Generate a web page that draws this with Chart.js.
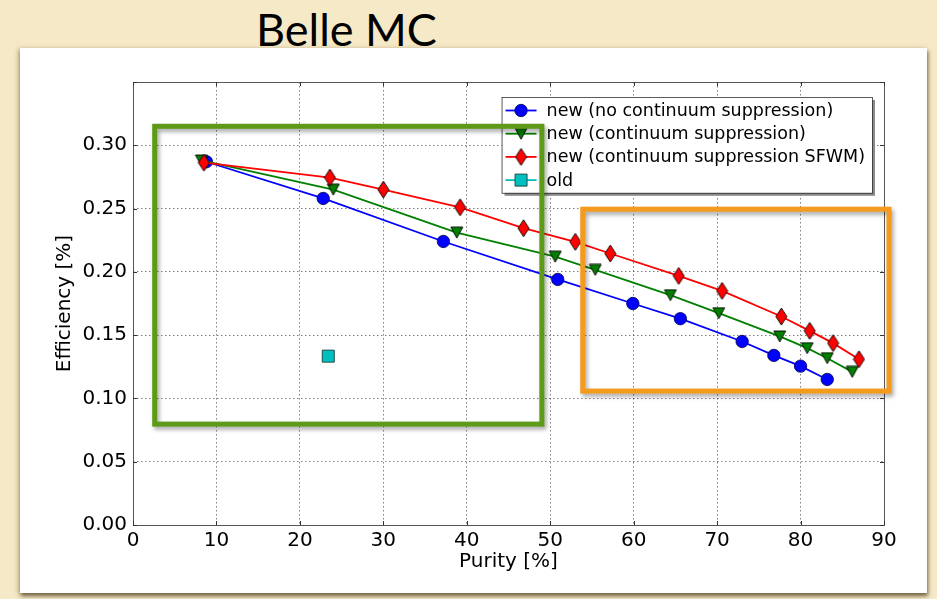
<!DOCTYPE html>
<html>
<head>
<meta charset="utf-8">
<script src="https://cdn.jsdelivr.net/npm/chart.js@4/dist/chart.umd.min.js"></script>
<style>
  html, body { margin: 0; padding: 0; }
  body { width: 937px; height: 599px; position: relative; overflow: hidden;
         background: #f6e9c7; }
  .page-title { position: absolute; left: 256px; top: 6px; margin: 0;
                font-family: Lato, "Open Sans", sans-serif; font-weight: 400;
                font-size: 45px; line-height: 46px; color: #000; }
  .card { position: absolute; left: 20px; top: 48px; width: 907px; height: 545px;
          background: #fff;
          box-shadow: -2px 1px 5px rgba(120, 95, 50, 0.35), 1px 3px 4px rgba(60, 45, 20, 0.7); }
  #chart { position: absolute; left: 0; top: 0; }
</style>
</head>
<body>
<h1 class="page-title">Belle MC</h1>
<div class="card"></div>
<canvas id="chart" width="937" height="599"></canvas>
<script>
// Purity [%] and efficiency values per selection
const noCsPurity   = [8.8, 22.8, 37.2, 50.9, 59.9, 65.6, 73.0, 76.8, 80.0, 83.2];
const noCsEff      = [0.287, 0.258, 0.224, 0.194, 0.175, 0.163, 0.145, 0.134, 0.1255, 0.115];

const csPurity     = [8.2, 24.0, 38.8, 50.6, 55.4, 64.4, 70.2, 77.5, 80.8, 83.2, 86.2];
const csEff        = [0.288, 0.265, 0.231, 0.212, 0.2016, 0.1816, 0.1674, 0.149, 0.1397, 0.1318, 0.121];

const sfwmPurity   = [8.5, 23.6, 30.0, 39.2, 46.8, 53.0, 57.2, 65.4, 70.6, 77.7, 81.1, 83.9, 87.0];
const sfwmEff      = [0.2863, 0.2745, 0.265, 0.251, 0.2345, 0.2237, 0.2145, 0.1968, 0.185, 0.1647, 0.1534, 0.1437, 0.131];

const oldPurity    = [23.4];
const oldEff       = [0.1334];

const seriesLabels = [
  'new (no continuum suppression)',
  'new (continuum suppression)',
  'new (continuum suppression SFWM)',
  'old'
];

const xTicks = [0, 10, 20, 30, 40, 50, 60, 70, 80, 90];
const yTicks = [0.00, 0.05, 0.10, 0.15, 0.20, 0.25, 0.30];

// Highlighted regions in data units: [xmin, xmax], [ymin, ymax]
const lowPurityRegionX  = [2.6, 49.0];
const lowPurityRegionY  = [0.0797, 0.315];
const highPurityRegionX = [53.9, 90.6];
const highPurityRegionY = [0.1058, 0.2495];

function toPoints(xs, ys) { return xs.map((x, i) => ({ x: x, y: ys[i] })); }

// Marker images (matplotlib-like thin diamond and downward triangle)
function makeMarker(w, h, fill, pathFn) {
  const c = document.createElement('canvas');
  c.width = w + 2; c.height = h + 2;
  const g = c.getContext('2d');
  g.translate(1, 1);
  g.beginPath(); pathFn(g, w, h); g.closePath();
  g.fillStyle = fill; g.fill();
  g.lineWidth = 0.9; g.strokeStyle = '#000'; g.stroke();
  return c;
}
const diamondMarker = makeMarker(11, 17, '#ff0000', (g, w, h) => {
  g.moveTo(w / 2, 0); g.lineTo(w, h / 2); g.lineTo(w / 2, h); g.lineTo(0, h / 2);
});
const triangleMarker = makeMarker(12, 11, '#007f00', (g, w, h) => {
  g.moveTo(0, 0); g.lineTo(w, 0); g.lineTo(w / 2, h);
});

const datasets = [
  { label: seriesLabels[0], data: toPoints(noCsPurity, noCsEff), showLine: true,
    borderColor: '#0000ff', borderWidth: 1.8, pointStyle: 'circle', pointRadius: 6.2,
    pointBackgroundColor: '#0000ff', pointBorderColor: '#000050', pointBorderWidth: 0.8, order: 3 },
  { label: seriesLabels[1], data: toPoints(csPurity, csEff), showLine: true,
    borderColor: '#008000', borderWidth: 1.8, pointStyle: triangleMarker, pointRadius: 6,
    pointBackgroundColor: '#007f00', pointBorderColor: '#000', order: 2 },
  { label: seriesLabels[2], data: toPoints(sfwmPurity, sfwmEff), showLine: true,
    borderColor: '#ff0000', borderWidth: 1.8, pointStyle: diamondMarker, pointRadius: 6,
    pointBackgroundColor: '#ff0000', pointBorderColor: '#000', order: 1 },
  { label: seriesLabels[3], data: toPoints(oldPurity, oldEff), showLine: false,
    borderColor: '#00bfbf', borderWidth: 1.8, pointStyle: 'rect', pointRadius: 8.5,
    pointBackgroundColor: '#00bfbf', pointBorderColor: '#1a3d3d', pointBorderWidth: 0.9, order: 0 }
];

const frameAndLegend = {
  id: 'frameAndLegend',
  afterDatasetsDraw(chart) {
    const { ctx, chartArea: a, scales } = chart;
    ctx.save();
    // axes frame
    ctx.strokeStyle = '#555'; ctx.lineWidth = 1; ctx.setLineDash([]);
    ctx.strokeRect(Math.round(a.left) + 0.5, Math.round(a.top) + 0.5,
                   Math.round(a.right - a.left), Math.round(a.bottom - a.top));
    // inward tick marks on all four sides
    ctx.strokeStyle = '#333';
    ctx.beginPath();
    xTicks.forEach(v => {
      const px = Math.round(scales.x.getPixelForValue(v)) + 0.5;
      ctx.moveTo(px, a.bottom); ctx.lineTo(px, a.bottom - 4);
      ctx.moveTo(px, a.top); ctx.lineTo(px, a.top + 4);
    });
    yTicks.concat([0.35]).forEach(v => {
      const py = Math.round(scales.y.getPixelForValue(v)) + 0.5;
      ctx.moveTo(a.left, py); ctx.lineTo(a.left + 4, py);
      ctx.moveTo(a.right, py); ctx.lineTo(a.right - 4, py);
    });
    ctx.stroke();

    // legend with line + marker samples
    ctx.font = '17.5px "DejaVu Sans"';
    const textW = Math.max(...seriesLabels.map(t => ctx.measureText(t).width));
    const rowH = 23.2, padTop = 13.5;
    const boxW = textW + 45 + 7, boxH = rowH * 4 + 3;
    const boxR = a.right - 12, boxT = a.top + 15, boxL = boxR - boxW;
    ctx.fillStyle = '#8a8a8a';
    ctx.fillRect(boxL + 3, boxT + 3, boxW, boxH);
    ctx.fillStyle = '#fff';
    ctx.fillRect(boxL, boxT, boxW, boxH);
    ctx.strokeStyle = '#333'; ctx.lineWidth = 0.8;
    ctx.strokeRect(boxL + 0.5, boxT + 0.5, boxW, boxH);
    datasets.forEach((ds, i) => {
      const cy = boxT + padTop + i * rowH;
      ctx.strokeStyle = ds.borderColor; ctx.lineWidth = 1.8;
      ctx.beginPath(); ctx.moveTo(boxL + 4, cy); ctx.lineTo(boxL + 35, cy); ctx.stroke();
      ctx.fillStyle = ds.pointBackgroundColor; ctx.strokeStyle = ds.pointBorderColor;
      ctx.lineWidth = ds.pointBorderWidth || 0.8;
      Chart.helpers.drawPoint(ctx, { pointStyle: ds.pointStyle, radius: ds.pointRadius,
        rotation: 0, borderWidth: ds.pointBorderWidth || 0.8 }, boxL + 19.5, cy);
      ctx.fillStyle = '#000'; ctx.textBaseline = 'middle'; ctx.textAlign = 'left';
      ctx.fillText(ds.label, boxL + 45, cy + 1);
    });
    ctx.restore();
  },
  afterDraw(chart) {
    const { ctx, scales } = chart;
    const boxes = [
      { xr: lowPurityRegionX, yr: lowPurityRegionY, color: '#5c9a17' },
      { xr: highPurityRegionX, yr: highPurityRegionY, color: '#f49b1e' }
    ];
    ctx.save();
    boxes.forEach(b => {
      const x0 = scales.x.getPixelForValue(b.xr[0]), x1 = scales.x.getPixelForValue(b.xr[1]);
      const y0 = scales.y.getPixelForValue(b.yr[1]), y1 = scales.y.getPixelForValue(b.yr[0]);
      ctx.shadowColor = 'rgba(0,0,0,0.35)'; ctx.shadowBlur = 4;
      ctx.shadowOffsetX = 2; ctx.shadowOffsetY = 3;
      ctx.strokeStyle = b.color; ctx.lineWidth = 5;
      ctx.strokeRect(x0, y0, x1 - x0, y1 - y0);
    });
    ctx.restore();
  }
};

new Chart(document.getElementById('chart'), {
  type: 'scatter',
  data: { datasets: datasets },
  plugins: [frameAndLegend],
  options: {
    responsive: false,
    animation: false,
    layout: { padding: { left: 0, top: 82, right: 53, bottom: 20 } },
    plugins: { legend: { display: false }, tooltip: { enabled: false } },
    scales: {
      x: {
        type: 'linear', min: 0, max: 90,
        afterFit(s) { s.height = 54; },
        afterBuildTicks(s) { s.ticks = xTicks.map(v => ({ value: v })); },
        ticks: { color: '#000', padding: 4, font: { family: 'DejaVu Sans', size: 20 },
                 callback: v => String(v) },
        grid: { color: 'rgba(0,0,0,0.5)', lineWidth: 1, drawTicks: false },
        border: { display: false, dash: [1.5, 2.5] },
        title: { display: true, text: 'Purity [%]', color: '#000',
                 font: { family: 'DejaVu Sans', size: 20 }, padding: { top: 0, bottom: 5 } }
      },
      y: {
        type: 'linear', min: 0, max: 0.35,
        afterFit(s) { s.width = 133; },
        afterBuildTicks(s) { s.ticks = yTicks.concat([0.35]).map(v => ({ value: v })); },
        ticks: { color: '#000', padding: 6, font: { family: 'DejaVu Sans', size: 20 },
                 callback: v => (v > 0.34 ? '' : v.toFixed(2)) },
        grid: { color: 'rgba(0,0,0,0.5)', lineWidth: 1, drawTicks: false },
        border: { display: false, dash: [1.5, 2.5] },
        title: { display: true, text: 'Efficiency [%]', color: '#000',
                 font: { family: 'DejaVu Sans', size: 20 }, padding: { top: 53, bottom: 0 } }
      }
    }
  }
});
</script>
</body>
</html>
